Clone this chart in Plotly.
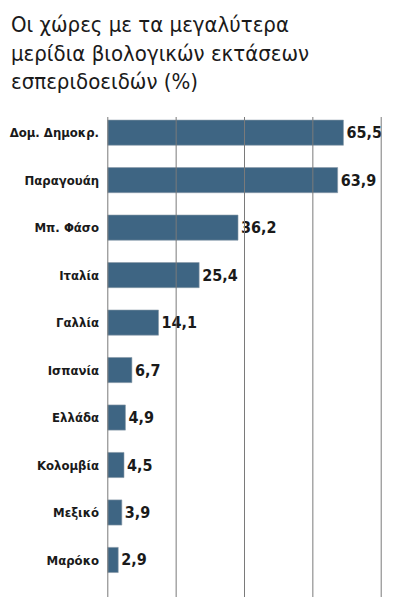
import plotly.graph_objects as go

countries = ["Δομ. Δημοκρ.", "Παραγουάη", "Μπ. Φάσο", "Ιταλία", "Γαλλία",
             "Ισπανία", "Ελλάδα", "Κολομβία", "Μεξικό", "Μαρόκο"]
values = [65.5, 63.9, 36.2, 25.4, 14.1, 6.7, 4.9, 4.5, 3.9, 2.9]
grid_ticks = [0, 19, 38, 57, 76]
x_range = [-0.5, 76.5]
title_lines = ["Οι χώρες με τα μεγαλύτερα", "μερίδια βιολογικών εκτάσεων", "εσπεριδοειδών (%)"]

labels = [f"{v:.1f}".replace(".", ",") for v in values]
FONT = "DejaVu Sans Condensed"
GRID = "#7a7a7a"

# page body has an 8px margin, so the figure is 8px smaller than the window
W, H = 389, 602
L, R, T, B = 98, 14, 109, 13
PW, PH = W - L - R, H - T - B

fig = go.Figure(go.Bar(
    x=values, y=countries, orientation="h",
    marker=dict(color="#3e6583", line=dict(color="#8a9aa8", width=0.6)),
    width=0.53,
    text=labels, textposition="outside", cliponaxis=False,
    textfont=dict(family=FONT, size=16, color="#1a1a1a", weight="bold"),
))

# vertical grid lines drawn as shapes above the bars
for g in grid_ticks:
    fig.add_vline(x=g, line=dict(color=GRID, width=1), layer="above")

fig.add_annotation(
    text="<br>".join(title_lines), xref="paper", yref="paper",
    x=-(L - 1) / PW, y=1.0 + (T - 2) / PH, xanchor="left", yanchor="top", align="left",
    showarrow=False,
    font=dict(family=FONT, size=22, color="#1a1a1a"),
)

fig.update_layout(
    width=W, height=H,
    margin=dict(l=L, r=R, t=T, b=B, autoexpand=False),
    paper_bgcolor="white", plot_bgcolor="white",
    showlegend=False,
    xaxis=dict(range=x_range, tickvals=grid_ticks, showticklabels=False,
               showgrid=False, zeroline=False, fixedrange=True, automargin=False),
    yaxis=dict(autorange=False, range=[9.78, -0.33], type="category", automargin=False,
               tickfont=dict(family=FONT, size=13, color="#1a1a1a", weight="bold"),
               ticks="", ticklabelstandoff=6, showgrid=False, zeroline=False,
               showline=False),
)

fig.write_html("out.html")
